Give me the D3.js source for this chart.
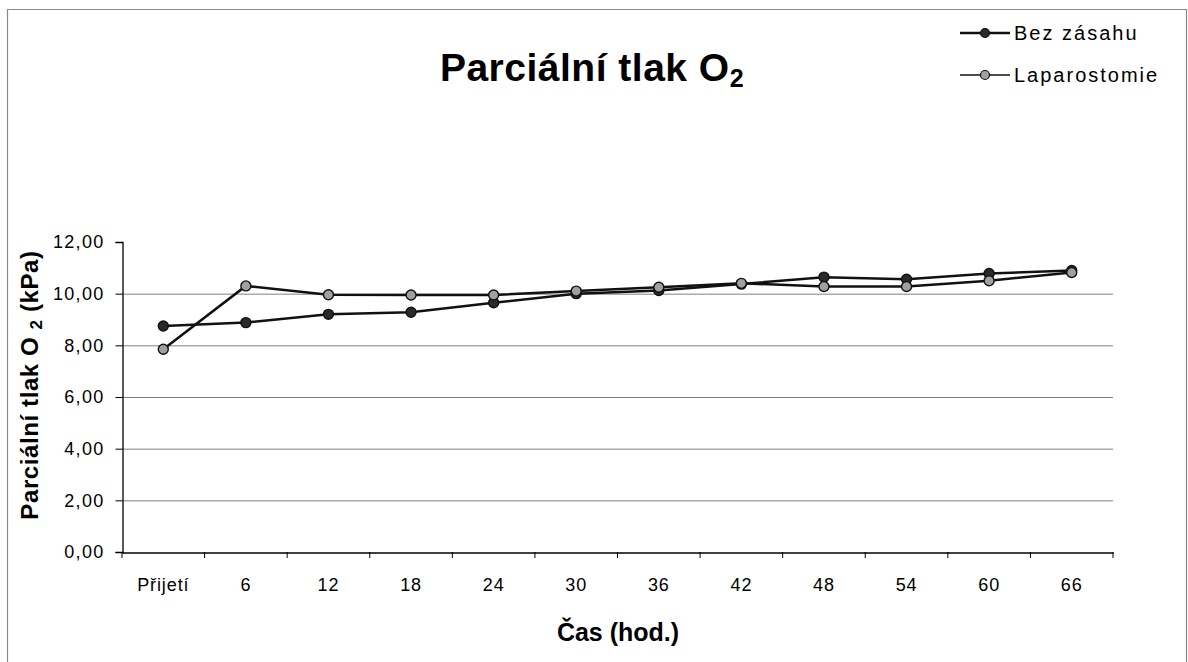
<!DOCTYPE html>
<html><head><meta charset="utf-8">
<script src="https://cdnjs.cloudflare.com/ajax/libs/d3/7.8.5/d3.min.js"></script>
<style>body{margin:0;background:#fff}svg{display:block}</style>
</head><body>
<svg id="chart" width="1188" height="662"></svg>
<script>
const categories = ["Přijetí","6","12","18","24","30","36","42","48","54","60","66"];
const bezZasahu = [8.75, 8.88, 9.2, 9.28, 9.65, 10.0, 10.12, 10.37, 10.64, 10.56, 10.78, 10.9];
const laparostomie = [7.85, 10.3, 9.96, 9.95, 9.95, 10.1, 10.25, 10.4, 10.28, 10.28, 10.5, 10.82];
const yTicks = [0, 2, 4, 6, 8, 10, 12];
const seriesNames = ["Bez zásahu", "Laparostomie"];

(function () {
const svg = d3.select("#chart");
const font = "'Liberation Sans', Arial, sans-serif";
const pL = 122, pR = 1113, pT = 242, pB = 552;

// frame
svg.append("path").attr("d", "M7.5,662 V9.5 H1186.5 V662")
  .attr("fill", "none").attr("stroke", "#888").attr("stroke-width", 1.2);

const x = d3.scaleBand().domain(categories).range([pL, pR]);
const y = d3.scaleLinear().domain([0, 12]).range([pB, pT]);

// gridlines
svg.append("g").selectAll("line").data(yTicks.filter(d => d > 0 && d < 12)).join("line")
  .attr("x1", pL).attr("x2", pR)
  .attr("y1", d => y(d) + 0.5).attr("y2", d => y(d) + 0.5)
  .attr("stroke", "#808080").attr("stroke-width", 1);

// y axis
const yAxis = svg.append("g").attr("transform", `translate(${pL + 0.5},0)`)
  .call(d3.axisLeft(y).tickValues(yTicks).tickSize(7).tickPadding(11)
    .tickFormat(d => d3.format(".2f")(d).replace(".", ",")));
yAxis.select(".domain").attr("stroke", "#000").attr("stroke-width", 1.3);
yAxis.selectAll(".tick line").attr("stroke", "#000");
yAxis.selectAll("text").attr("font-family", font).attr("font-size", 18)
  .attr("letter-spacing", 1.3).attr("fill", "#000");

// x axis
const xAxis = svg.append("g").attr("transform", `translate(0,${pB + 0.5})`)
  .call(d3.axisBottom(x).tickSize(0).tickPadding(26).tickSizeOuter(0));
xAxis.select(".domain").attr("stroke", "#000").attr("stroke-width", 1.3);
xAxis.selectAll("text").attr("font-family", font).attr("font-size", 18)
  .attr("letter-spacing", 0.9).attr("fill", "#000");
// boundary ticks
const bounds = d3.range(categories.length + 1).map(i => pL + i * x.bandwidth());
svg.append("g").selectAll("line").data(bounds).join("line")
  .attr("x1", d => d).attr("x2", d => d)
  .attr("y1", pB).attr("y2", pB + 6)
  .attr("stroke", "#000").attr("stroke-width", 1);

// lines
const line = d3.line().x((d, i) => x(categories[i]) + x.bandwidth() / 2).y(d => y(d));
const series = [
  { name: seriesNames[0], values: bezZasahu, fill: "#2a2a2a" },
  { name: seriesNames[1], values: laparostomie, fill: "#a0a0a0" }
];
series.forEach(s => {
  svg.append("path").datum(s.values).attr("d", line)
    .attr("fill", "none").attr("stroke", "#111").attr("stroke-width", 2.5);
});
series.forEach(s => {
  svg.append("g").selectAll("circle").data(s.values).join("circle")
    .attr("cx", (d, i) => x(categories[i]) + x.bandwidth() / 2)
    .attr("cy", d => y(d)).attr("r", 5)
    .attr("fill", s.fill).attr("stroke", "#111").attr("stroke-width", 1.4);
});

// title
const title = svg.append("text").attr("x", 592).attr("y", 81).attr("text-anchor", "middle")
  .attr("font-family", font).attr("font-weight", "bold").attr("font-size", 39)
  .attr("letter-spacing", 0.5).attr("fill", "#000");
title.append("tspan").text("Parciální tlak O");
title.append("tspan").attr("font-size", 25).attr("dy", 6).text("2");

// y label
const yl = svg.append("text").attr("transform", "translate(38,385) rotate(-90)")
  .attr("text-anchor", "middle").attr("font-family", font).attr("font-weight", "bold")
  .attr("font-size", 24).attr("letter-spacing", 0.6).attr("fill", "#000");
yl.append("tspan").text("Parciální tlak O ");
yl.append("tspan").attr("font-size", 17).attr("dy", 4).text("2");
yl.append("tspan").attr("dy", -4).text(" (kPa)");

// x label
svg.append("text").attr("x", 618).attr("y", 641).attr("text-anchor", "middle")
  .attr("font-family", font).attr("font-weight", "bold").attr("font-size", 25).attr("fill", "#000")
  .text("Čas (hod.)");

// legend
const lg = svg.append("g");
series.forEach((s, i) => {
  const ly = 33 + i * 42;
  lg.append("line").attr("x1", 960).attr("x2", 1010).attr("y1", ly).attr("y2", ly)
    .attr("stroke", "#111").attr("stroke-width", i === 0 ? 2.4 : 1.5);
  lg.append("circle").attr("cx", 985).attr("cy", ly).attr("r", 4.5)
    .attr("fill", s.fill).attr("stroke", "#111").attr("stroke-width", 1.2);
  lg.append("text").attr("x", 1014).attr("y", ly + 7)
    .attr("font-family", font).attr("font-size", 20).attr("letter-spacing", 2)
    .attr("fill", "#000").text(s.name);
});
})();
</script>
</body></html>
